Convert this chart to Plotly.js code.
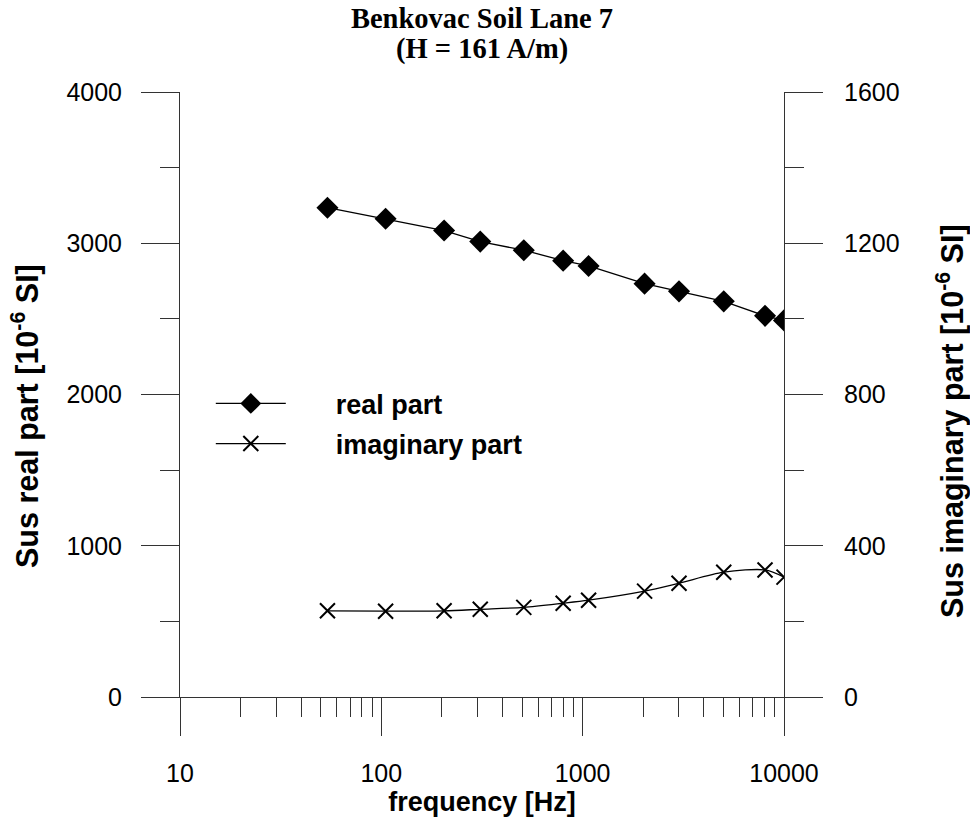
<!DOCTYPE html>
<html>
<head>
<meta charset="utf-8">
<script src="https://cdn.plot.ly/plotly-3.0.1.min.js"></script>
<style>html,body{margin:0;padding:0;background:#fff;}#chart{width:970px;height:818px;}</style>
</head>
<body>
<div id="chart"></div>
<script>
var frequency = [54, 105, 205, 310, 510, 800, 1070, 2030, 3010, 5020, 8050, 10000];
var realPart = [3235, 3162, 3084, 3011, 2954, 2885, 2850, 2733, 2682, 2616, 2520, 2490];
var imagPart = [228, 227, 228, 232, 237, 248, 256, 280, 301, 330, 336, 317];
var xTickVals = [10, 100, 1000, 10000];
var xTickText = ['10', '100', '1000', '10000'];
var xMinorVals = [20,30,40,50,60,70,80,90,200,300,400,500,600,700,800,900,2000,3000,4000,5000,6000,7000,8000,9000];
var titleLine1 = 'Benkovac Soil Lane 7';
var titleLine2 = '(H = 161 A/m)';
var leftTitle = 'Sus real part [10<sup>-6</sup> SI]';
var rightTitle = 'Sus imaginary part [10<sup>-6</sup> SI]';
var pad = '\u00a0\u00a0\u00a0\u00a0\u00a0\u00a0';

var axisFont = {family: 'Arial, Liberation Sans, sans-serif', size: 25, color: '#000'};
var xTitleFont = {family: 'Arial, Liberation Sans, sans-serif', size: 27, color: '#000', weight: 'bold'};
var yTitleFont = {family: 'Arial, Liberation Sans, sans-serif', size: 30.5, color: '#000', weight: 'bold'};
var legendFont = {family: 'Arial, Liberation Sans, sans-serif', size: 27, color: '#000', weight: 'bold'};
var serifFont = {family: 'Times New Roman, Liberation Serif, serif', size: 28.5, color: '#000', weight: 'bold'};
var lineCol = '#333';

var traces = [
  {
    x: frequency, y: realPart, name: pad + 'real part', type: 'scatter', mode: 'lines+markers',
    xaxis: 'x', yaxis: 'y', legendgroup: 'a',
    line: {color: '#000', width: 1.3},
    marker: {symbol: 'diamond', size: 17, color: '#000'}
  },
  {
    x: frequency, y: imagPart, name: pad + 'imaginary part', type: 'scatter', mode: 'lines+markers',
    xaxis: 'x', yaxis: 'y2', legendgroup: 'b',
    line: {color: '#000', width: 1.3, shape: 'spline', smoothing: 0.8},
    marker: {symbol: 'x-thin-open', size: 15, color: '#000', line: {width: 2, color: '#000'}}
  }
];

var layout = {
  width: 970, height: 818,
  margin: {l: 180, r: 186, t: 92, b: 121},
  paper_bgcolor: '#fff', plot_bgcolor: '#fff',
  showlegend: true,
  title: {
    text: titleLine1, font: serifFont,
    x: 0.5, xref: 'paper', xanchor: 'center',
    y: 1 - 18 / 818, yref: 'container', yanchor: 'middle'
  },
  annotations: [
    {
      text: titleLine2, font: serifFont, showarrow: false,
      x: 0.5, xref: 'paper', xanchor: 'center',
      y: 1 + (92 - 49) / 605, yref: 'paper', yanchor: 'middle'
    },
    {
      text: leftTitle, font: yTitleFont, showarrow: false, textangle: -90,
      x: (25 - 180) / 604, xref: 'paper', xanchor: 'center',
      y: (697 - 416) / 605, yref: 'paper', yanchor: 'middle'
    },
    {
      text: rightTitle, font: yTitleFont, showarrow: false, textangle: -90,
      x: (950 - 180) / 604, xref: 'paper', xanchor: 'center',
      y: (697 - 421) / 605, yref: 'paper', yanchor: 'middle'
    }
  ],
  legend: {
    x: 0.051, y: 0.525, xanchor: 'left', yanchor: 'top',
    font: legendFont, bgcolor: 'rgba(0,0,0,0)', borderwidth: 0,
    tracegroupgap: 2, itemwidth: 70
  },
  xaxis: {
    type: 'log', range: [1, 4], showgrid: false, zeroline: false,
    showline: true, linecolor: lineCol, linewidth: 1,
    ticks: 'outside', ticklen: 38, tickwidth: 1, tickcolor: lineCol,
    tickmode: 'array', tickvals: xTickVals, ticktext: xTickText,
    tickfont: axisFont, ticklabelstandoff: 16,
    minor: {tickmode: 'array', tickvals: xMinorVals, ticks: 'outside', ticklen: 19, tickwidth: 1, tickcolor: lineCol, showgrid: false},
    title: {text: 'frequency [Hz]', font: xTitleFont, standoff: 1},
    anchor: 'y'
  },
  yaxis: {
    range: [0, 4000], showgrid: false, zeroline: false,
    showline: true, linecolor: lineCol, linewidth: 1,
    ticks: 'outside', ticklen: 38, tickwidth: 1, tickcolor: lineCol,
    dtick: 1000, tick0: 0, tickfont: axisFont, ticklabelstandoff: 14,
    minor: {dtick: 500, tick0: 0, ticks: 'outside', ticklen: 19, tickwidth: 1, tickcolor: lineCol, showgrid: false},
    anchor: 'x'
  },
  yaxis2: {
    range: [0, 1600], overlaying: 'y', side: 'right', anchor: 'x',
    showgrid: false, zeroline: false,
    showline: true, linecolor: lineCol, linewidth: 1,
    ticks: 'outside', ticklen: 38, tickwidth: 1, tickcolor: lineCol,
    dtick: 400, tick0: 0, tickfont: axisFont, ticklabelstandoff: 16,
    minor: {dtick: 200, tick0: 0, ticks: 'outside', ticklen: 19, tickwidth: 1, tickcolor: lineCol, showgrid: false}
  }
};

Plotly.newPlot('chart', traces, layout, {displayModeBar: false, staticPlot: true});
</script>
</body>
</html>
